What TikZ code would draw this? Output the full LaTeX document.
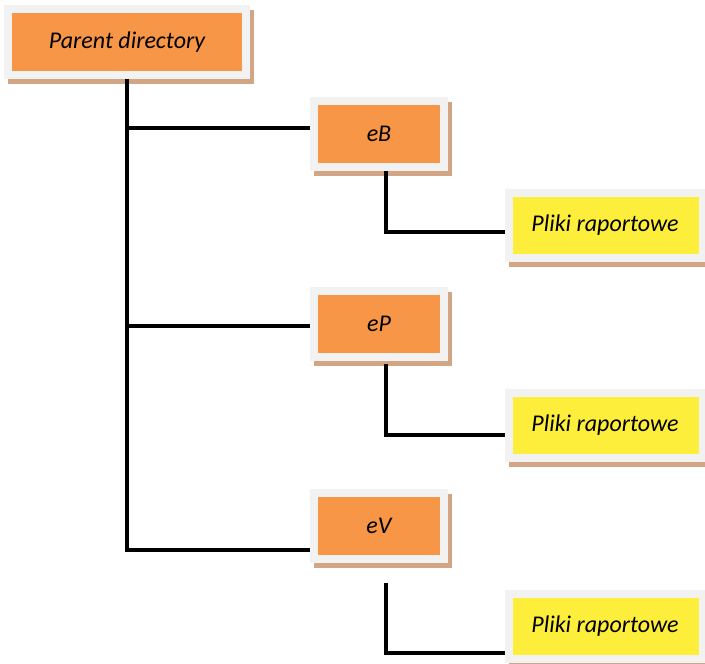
\documentclass[tikz,border=0pt]{standalone}
\usepackage{fontspec}
\setmainfont{Carlito}
\usetikzlibrary{shadows}
\definecolor{dirorange}{HTML}{F79646}
\definecolor{fileyellow}{HTML}{FDEE3C}
\definecolor{framegray}{HTML}{F2F2F2}
\definecolor{shadowtan}{HTML}{D2A684}
\def\px{0.75pt}

\begin{document}
\begin{tikzpicture}[x=\px, y=-\px]
    \tikzstyle{box}=[fill=framegray, inner sep=0pt, minimum height=74*\px,
        font=\itshape\fontsize{18}{21}\selectfont,
        drop shadow={shadow xshift=4*\px, shadow yshift=-5*\px, fill=shadowtan, opacity=1}]
    \tikzstyle{dir}=[box, minimum width=138*\px,
        path picture={\fill[dirorange] ([shift={(8*\px,-8*\px)}]path picture bounding box.north west)
            rectangle ([shift={(-8*\px,8*\px)}]path picture bounding box.south east);}]
    \tikzstyle{report}=[box, minimum width=200*\px, minimum height=73*\px,
        path picture={\fill[fileyellow] ([shift={(8*\px,-8*\px)}]path picture bounding box.north west)
            rectangle ([shift={(-6*\px,8*\px)}]path picture bounding box.south east);}]
    \tikzstyle{link}=[draw=black, line width=2.3pt]

    \useasboundingbox (0,0) rectangle (705,663);

    % Draw the parent directory.
    \node[dir, minimum width=246*\px] (parent) at (127,42) {Parent directory};

    % Draw the sub directories and their report files.
    \node[dir] (eB) at (379,134) {eB};
    \node[dir] (eP) at (379,323.5) {eP};
    \node[dir] (eV) at (379,525.5) {eV};
    \node[report] (R-1) at (605,225.5) {Pliki raportowe};
    \node[report] (R-2) at (605,425.5) {Pliki raportowe};
    \node[report] (R-3) at (605,626.5) {Pliki raportowe};

    % Connect parent with sub directories.
    \draw[link] (parent.south) |- ([yshift=-24.5*\px]eV.west);
    \draw[link] (parent.south) |- ([yshift=6*\px]eB.west);
    \draw[link] (parent.south) |- ([yshift=-2.5*\px]eP.west);

    % Connect sub directories with report files.
    \draw[link] ([xshift=7*\px]eB.south) |- ([yshift=-6.5*\px]R-1.west);
    \draw[link] ([shift={(7*\px,-3*\px)}]eP.south) |- ([yshift=-9.5*\px]R-2.west);
    \draw[link] ([shift={(7*\px,-20*\px)}]eV.south) |- ([yshift=-26.5*\px]R-3.west);
\end{tikzpicture}
\end{document}
